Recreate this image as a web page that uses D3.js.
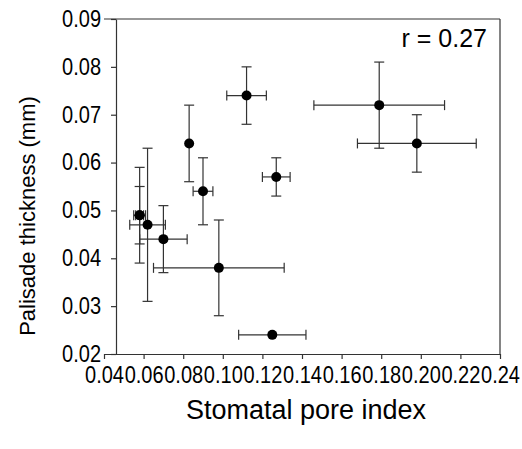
<!DOCTYPE html>
<html>
<head>
<meta charset="utf-8">
<script src="https://cdn.jsdelivr.net/npm/d3@7"></script>
<style>
  body { margin: 0; background: #fff; }
  text { font-family: "Liberation Sans", Arial, sans-serif; fill: #000; }
</style>
</head>
<body>
<div id="chart"></div>
<script>
// stomatal pore index (x) vs palisade thickness (y), with +/- errors
var xVals  = [0.112, 0.179, 0.083, 0.127, 0.198, 0.090, 0.058, 0.058, 0.062, 0.070, 0.098, 0.125];
var xErrs  = [0.010, 0.033, 0.000, 0.007, 0.030, 0.005, 0.002, 0.003, 0.009, 0.012, 0.033, 0.017];
var yVals  = [0.074, 0.072, 0.064, 0.057, 0.064, 0.054, 0.049, 0.049, 0.047, 0.044, 0.038, 0.024];
var yErrs  = [0.006, 0.009, 0.008, 0.004, 0.006, 0.007, 0.006, 0.010, 0.016, 0.007, 0.010, 0.000];
var xTicks = [0.04, 0.06, 0.08, 0.10, 0.12, 0.14, 0.16, 0.18, 0.20, 0.22, 0.24];
var yTicks = [0.02, 0.03, 0.04, 0.05, 0.06, 0.07, 0.08, 0.09];

var WIDTH = 522, HEIGHT = 449;
var mLeft = 104, mRight = 500, mTop = 19, mBottom = 354, yAxisX = 116;

var svg = d3.select("#chart").append("svg")
    .attr("width", WIDTH)
    .attr("height", HEIGHT);

var x = d3.scaleLinear().domain([0.04, 0.24]).range([mLeft, mRight]);
var y = d3.scaleLinear().domain([0.02, 0.09]).range([mBottom, mTop]);

var data = xVals.map(function (d, i) {
    return { x: d, y: yVals[i], xe: xErrs[i], ye: yErrs[i] };
});

// frame
var frame = svg.append("g").attr("stroke", "#333").attr("stroke-width", 1.2);
frame.append("line").attr("x1", mLeft).attr("x2", mRight).attr("y1", mTop).attr("y2", mTop);
frame.append("line").attr("x1", mRight).attr("x2", mRight).attr("y1", mTop).attr("y2", mBottom);

// x axis (labels a bit narrow, like the original)
var xAxis = svg.append("g")
    .attr("transform", "translate(0," + mBottom + ")")
    .call(d3.axisBottom(x).tickValues(xTicks).tickFormat(d3.format(".2f")).tickSize(5).tickSizeOuter(0).tickPadding(10));
xAxis.selectAll("text")
    .style("font-size", "23px")
    .attr("y", 13)
    .attr("transform", "scale(0.87,1)");

// y axis
var yAxis = svg.append("g")
    .attr("transform", "translate(" + yAxisX + ",0)")
    .call(d3.axisLeft(y).tickValues(yTicks).tickFormat(d3.format(".2f")).tickSize(5).tickSizeOuter(0).tickPadding(10));
yAxis.selectAll("text")
    .style("font-size", "23px")
    .attr("x", 0)
    .attr("transform", "translate(-15,0)scale(0.87,1)");

svg.selectAll(".domain, .tick line").attr("stroke", "#333").attr("stroke-width", 1.2);

// error bars
var bars = svg.append("g").attr("stroke", "#333").attr("stroke-width", 1.2);
var cap = 5;

data.filter(function (d) { return d.xe > 0; }).forEach(function (d) {
    var x0 = x(d.x - d.xe), x1 = x(d.x + d.xe), yy = y(d.y);
    bars.append("line").attr("x1", x0).attr("x2", x1).attr("y1", yy).attr("y2", yy);
    bars.append("line").attr("x1", x0).attr("x2", x0).attr("y1", yy - cap).attr("y2", yy + cap);
    bars.append("line").attr("x1", x1).attr("x2", x1).attr("y1", yy - cap).attr("y2", yy + cap);
});

data.filter(function (d) { return d.ye > 0; }).forEach(function (d) {
    var y0 = y(d.y - d.ye), y1 = y(d.y + d.ye), xx = x(d.x);
    bars.append("line").attr("x1", xx).attr("x2", xx).attr("y1", y0).attr("y2", y1);
    bars.append("line").attr("x1", xx - cap).attr("x2", xx + cap).attr("y1", y0).attr("y2", y0);
    bars.append("line").attr("x1", xx - cap).attr("x2", xx + cap).attr("y1", y1).attr("y2", y1);
});

// points
svg.append("g").selectAll("circle")
    .data(data).enter()
    .append("circle")
    .attr("cx", function (d) { return x(d.x); })
    .attr("cy", function (d) { return y(d.y); })
    .attr("r", 5)
    .attr("fill", "#000");

// labels
svg.append("text")
    .attr("x", 487).attr("y", 47)
    .attr("text-anchor", "end")
    .style("font-size", "25px")
    .text("r = 0.27");

svg.append("text")
    .attr("x", 306).attr("y", 419)
    .attr("text-anchor", "middle")
    .style("font-size", "27px")
    .text("Stomatal pore index");

svg.append("text")
    .attr("transform", "translate(35,216)rotate(-90)")
    .attr("text-anchor", "middle")
    .style("font-size", "22px")
    .text("Palisade thickness (mm)");
</script>
</body>
</html>
